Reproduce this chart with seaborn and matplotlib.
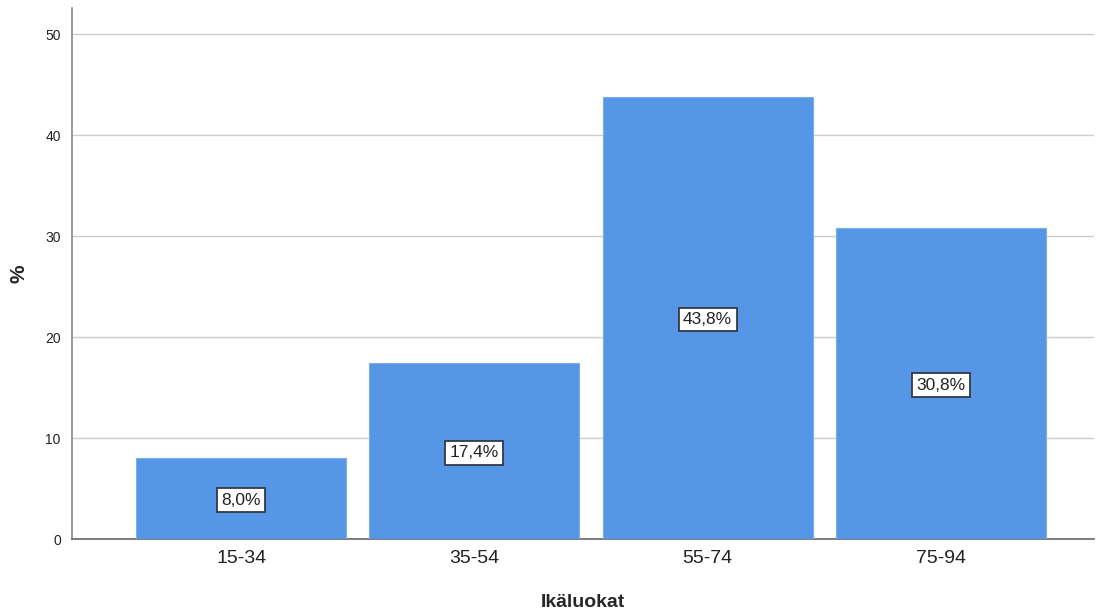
import pandas as pd
import matplotlib
matplotlib.use("Agg")
import matplotlib.pyplot as plt
import seaborn as sns

ages = ["15-34", "35-54", "55-74", "75-94"]
percent = [8.0, 17.4, 43.8, 30.8]
labels = ["8,0%", "17,4%", "43,8%", "30,8%"]

df = pd.DataFrame({"age": ages, "pct": percent})

sns.set_style("white")
plt.rcParams["font.family"] = ["Liberation Sans", "DejaVu Sans"]

fig = plt.figure(figsize=(11.02, 6.13), dpi=100)
ax = fig.add_axes([0.0653, 0.1207, 0.9274, 0.8663])

sns.barplot(data=df, x="age", y="pct", color="#5596e6", saturation=1,
            width=0.9, edgecolor="#7aaeec", linewidth=0.8, ax=ax, zorder=3)

# value labels in boxes at mid-height of each bar
for i, (v, lab) in enumerate(zip(percent, labels)):
    ax.text(i, v / 2, lab, ha="center", va="center_baseline", fontsize=12.5,
            color="#222222", zorder=5,
            bbox=dict(boxstyle="square,pad=0.25", facecolor="white",
                      edgecolor="#333a44", linewidth=1.3))

ax.set_xlim(-0.725, 3.656)
ax.set_ylim(0, 52.6)
ax.set_yticks([0, 10, 20, 30, 40, 50])
ax.yaxis.grid(True, color="#cccccc", linewidth=1, zorder=0)
ax.set_axisbelow(True)

for s in ["top", "right"]:
    ax.spines[s].set_visible(False)
ax.spines["left"].set_color("#888888")
ax.spines["bottom"].set_color("#666666")
ax.spines["left"].set_linewidth(1.2)
ax.spines["bottom"].set_linewidth(1.2)

ax.tick_params(axis="y", labelsize=10, colors="#222222", length=0, pad=8)
ax.tick_params(axis="x", labelsize=14, colors="#222222", length=0, pad=8)

ax.set_xlabel("Ikäluokat", fontsize=14, fontweight="bold", labelpad=19)
ax.set_ylabel("%", fontsize=15, fontweight="bold", labelpad=12)

fig.savefig("out.png", dpi=100)
